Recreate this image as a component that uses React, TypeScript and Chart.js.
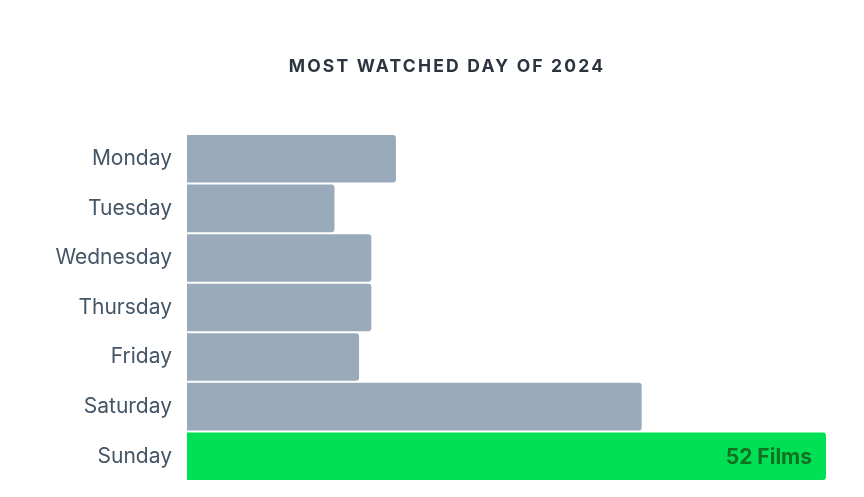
import React, { useEffect, useRef } from "react";
import { Chart, registerables } from "chart.js";

Chart.register(...registerables);

const TITLE = "MOST WATCHED DAY OF 2024";
const days = ["Monday", "Tuesday", "Wednesday", "Thursday", "Friday", "Saturday", "Sunday"];
const films = [17, 12, 15, 15, 14, 37, 52];
const GREY = "#99aabb";
const GREEN = "#00e054";

const valueLabelPlugin = {
  id: "valueLabel",
  afterDatasetsDraw(chart: any) {
    const meta = chart.getDatasetMeta(0);
    const data = chart.data.datasets[0].data as number[];
    const max = Math.max(...data);
    const ctx = chart.ctx;
    meta.data.forEach((bar: any, i: number) => {
      if (data[i] !== max) return;
      ctx.save();
      ctx.font = "bold 21px Inter, 'Open Sans', sans-serif";
      ctx.fillStyle = "#137021";
      ctx.textAlign = "right";
      ctx.textBaseline = "middle";
      ctx.fillText(`${data[i]} Films`, bar.x - 14, bar.y + 1);
      ctx.restore();
    });
  },
};

export default function App() {
  const ref = useRef<HTMLCanvasElement | null>(null);
  useEffect(() => {
    if (!ref.current) return;
    const max = Math.max(...films);
    const chart = new Chart(ref.current, {
      type: "bar",
      data: {
        labels: days,
        datasets: [
          {
            data: films,
            backgroundColor: films.map((v) => (v === max ? GREEN : GREY)),
            borderRadius: { topLeft: 0, bottomLeft: 0, topRight: 3, bottomRight: 3 },
            borderSkipped: false,
            barPercentage: 0.96,
            categoryPercentage: 1,
          },
        ],
      },
      options: {
        indexAxis: "y",
        animation: false,
        responsive: false,
        layout: { padding: { top: 126, bottom: 8, left: 0, right: 30 } },
        plugins: { legend: { display: false }, tooltip: { enabled: false }, title: { display: false } },
        scales: {
          x: { display: false, min: 0, max: 52 },
          y: {
            grid: { display: false, drawTicks: false },
            border: { display: false },
            ticks: {
              color: "#445566",
              padding: 15,
              font: { family: "Inter, 'Open Sans', sans-serif", size: 21 },
            },
            afterFit(scale: any) {
              scale.width = 179;
              scale.paddingTop = 0;
              scale.paddingBottom = 0;
            },
          },
        },
      },
      plugins: [valueLabelPlugin],
    });
    return () => chart.destroy();
  }, []);

  return (
    <div style={{ position: "relative", width: 848, height: 481 }}>
      <div
        style={{
          position: "absolute",
          top: 46,
          left: 0,
          width: 878,
          textAlign: "center",
          fontFamily: "Inter, 'Open Sans', sans-serif",
          fontWeight: 700,
          fontSize: 17.5,
          letterSpacing: "2.2px",
          color: "#2c3440",
          lineHeight: "24px",
        }}
      >
        {TITLE}
      </div>
      <canvas ref={ref} width={848} height={481} style={{ display: "block", width: 848, height: 481 }} />
    </div>
  );
}
